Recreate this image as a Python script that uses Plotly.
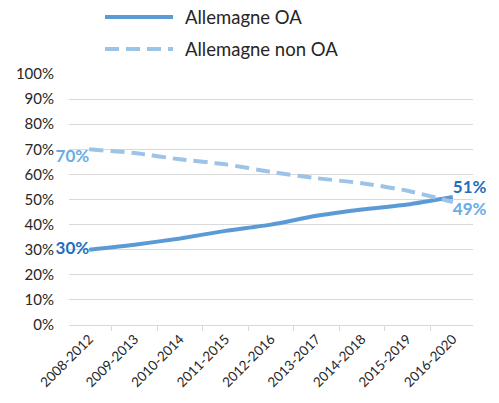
import plotly.graph_objects as go

categories = ["2008-2012", "2009-2013", "2010-2014", "2011-2015", "2012-2016",
              "2013-2017", "2014-2018", "2015-2019", "2016-2020"]
oa_values = [30, 32, 34.5, 37.5, 40, 43.5, 46, 48, 51]
non_oa_values = [70, 68.5, 66, 64, 61, 58.5, 56.5, 53.5, 49]
y_ticks = [0, 10, 20, 30, 40, 50, 60, 70, 80, 90, 100]
series_names = ["Allemagne OA", "Allemagne non OA"]

FONT = "Lato, 'Open Sans', sans-serif"
OA_COLOR = "#5b9bd5"
NON_OA_COLOR = "#9dc3e6"
DASH = "14px,7px"

def end_labels(vals):
    return [f"{round(v)}%" if i in (0, len(vals) - 1) else "" for i, v in enumerate(vals)]

fig = go.Figure()
fig.add_trace(go.Scatter(
    x=categories, y=oa_values, name=series_names[0],
    mode="lines+text", line=dict(color=OA_COLOR, width=4, shape="spline", smoothing=0.6),
    text=end_labels(oa_values),
    textposition=["middle left"] + ["middle center"] * 7 + ["top right"],
    textfont=dict(family=FONT, size=17, color="#1f6fbf", weight="bold"),
    cliponaxis=False, hoverinfo="skip",
))
fig.add_trace(go.Scatter(
    x=categories, y=non_oa_values, name=series_names[1],
    mode="lines+text", line=dict(color=NON_OA_COLOR, width=4, dash=DASH, shape="spline", smoothing=0.6),
    text=end_labels(non_oa_values),
    textposition=["bottom left"] + ["middle center"] * 7 + ["bottom right"],
    textfont=dict(family=FONT, size=17, color="#6aade4", weight="bold"),
    cliponaxis=False, hoverinfo="skip",
))

# manual legend (paper coordinates, does not push margins)
legend_rows = [(series_names[0], OA_COLOR, "solid", 1.227),
               (series_names[1], NON_OA_COLOR, DASH, 1.0996)]
for name, color, dash, yy in legend_rows:
    fig.add_shape(type="line", xref="paper", yref="paper",
                  x0=0.0891, x1=0.2574, y0=yy, y1=yy,
                  line=dict(color=color, width=4, dash=dash))
    fig.add_annotation(xref="paper", yref="paper", x=0.2822, y=yy,
                       xanchor="left", yanchor="middle", showarrow=False,
                       text=name, font=dict(family=FONT, size=18.5, color="#262626"))

fig.update_layout(
    width=499, height=403,
    margin=dict(l=69, r=26, t=74, b=78),
    paper_bgcolor="white", plot_bgcolor="white",
    font=dict(family=FONT, size=13, color="#262626"),
    showlegend=False,
    xaxis=dict(
        type="category", showgrid=False, showline=True, linecolor="#d9d9d9", linewidth=1,
        ticks="outside", ticklen=5, tickcolor="#d9d9d9", tickson="boundaries",
        tickangle=-45, tickfont=dict(size=13.5, color="#262626"), automargin=False,
    ),
    yaxis=dict(
        range=[0, 100], tickvals=y_ticks, ticktext=[f"{v}%" for v in y_ticks],
        showgrid=True, gridcolor="#d9d9d9", gridwidth=1, zeroline=False,
        showline=False, ticks="", tickfont=dict(size=15, color="#262626"),
        automargin=False, ticklabelstandoff=14,
    ),
)

fig.write_html("out.html", config={"displayModeBar": False},
               post_script="document.body.style.margin='0';")
